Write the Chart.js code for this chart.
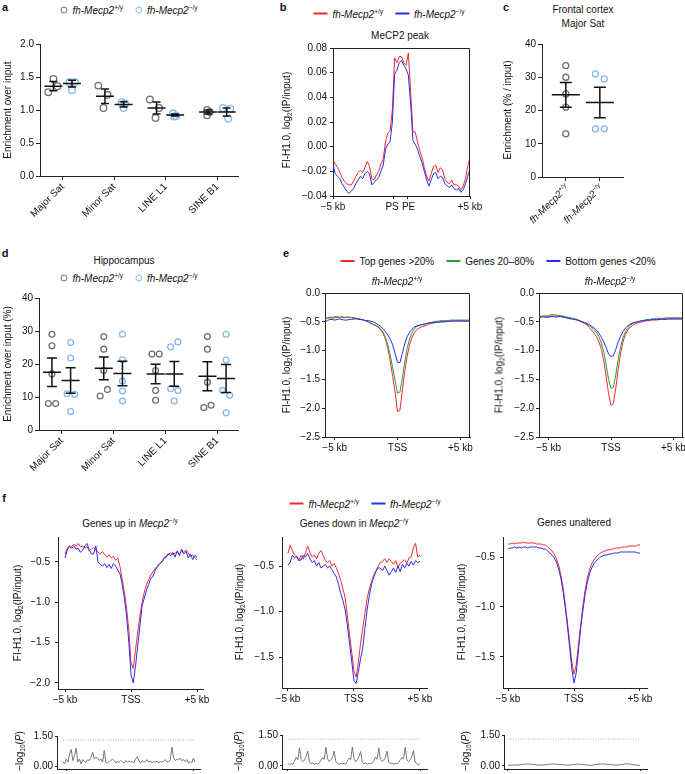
<!DOCTYPE html>
<html>
<head>
<meta charset="utf-8">
<script src="https://cdn.jsdelivr.net/npm/chart.js@4.4.1/dist/chart.umd.min.js"></script>
<style>
  body { margin: 0; background: #fff; }
  #fig { position: relative; width: 685px; height: 774px; overflow: hidden; background: #fff;
         font-family: 'Liberation Sans', Arial, Helvetica, sans-serif; font-size: 10px; color: #111; }
  .t { position: absolute; white-space: nowrap; transform: translate(-50%, -50%); line-height: 12px; }
  .r { transform: translate(-50%, -50%) rotate(-90deg); }
  .pl { font-weight: bold; font-size: 11px; }
  sup { font-size: 6.5px; vertical-align: 0; position: relative; top: -4px; }
  sub { font-size: 6.5px; vertical-align: 0; position: relative; top: 2px; }
  .oc { display: inline-block; width: 5px; height: 5px; border: 1.4px solid; border-radius: 50%; margin-right: 5px; vertical-align: 0; }
  .ln { display: inline-block; width: 14px; height: 2px; margin-right: 5px; vertical-align: 3px; }
  .gap { display: inline-block; width: 12px; }
  .rot45 { position: absolute; white-space: nowrap; transform-origin: 100% 50%; transform: rotate(-45deg); line-height: 12px; }
</style>
</head>
<body>
<div id="fig"></div>
<script>
  // ---------- data ----------
  // a: enrichment over input (3 mice per group)
  const repeatCats = ["Major Sat", "Minor Sat", "LINE L1", "SINE B1"];
  const aWT = [[1.47, 1.36, 1.27], [1.37, 1.23, 1.03], [1.16, 1.03, 0.88], [1.00, 0.97, 0.92]];
  const aKO = [[1.42, 1.42, 1.30], [1.12, 1.10, 1.03], [0.95, 0.91, 0.90], [1.03, 1.02, 0.87]];
  const aWTjit = [[0, 0.08, -0.1], [-0.13, 0.05, -0.03], [-0.13, 0.05, -0.02], [-0.02, 0.03, -0.02]];
  const aKOjit = [[-0.05, 0.06, 0], [-0.04, 0.03, 0], [-0.04, 0.02, -0.02], [-0.07, 0.07, 0.03]];
  const aWTmean = [1.36, 1.21, 1.03, 0.97];
  const aWTsem = [0.07, 0.11, 0.09, 0.03];
  const aKOmean = [1.40, 1.085, 0.925, 0.97];
  const aKOsem = [0.05, 0.04, 0.015, 0.06];

  // b: MeCP2 peak meta-profile
  const bRed = [-0.011, -0.014, -0.017, -0.021, -0.025, -0.028, -0.030, -0.031, -0.031, -0.028,
    -0.024, -0.021, -0.019, -0.021, -0.017, -0.012, -0.016, -0.026, -0.027, -0.023,
    -0.020, -0.014, -0.010, 0.004, 0.011, 0.013, 0.030, 0.072, 0.068, 0.073,
    0.073, 0.068, 0.066, 0.076, 0.045, 0.012, 0.012, 0.004, -0.003, -0.009,
    -0.017, -0.024, -0.028, -0.022, -0.016, -0.015, -0.021, -0.017, -0.019, -0.026,
    -0.029, -0.030, -0.027, -0.031, -0.031, -0.032, -0.035, -0.032, -0.026, -0.016,
    -0.009];
  const bBlue = [-0.015, -0.022, -0.024, -0.026, -0.030, -0.033, -0.036, -0.038, -0.036, -0.034,
    -0.030, -0.027, -0.024, -0.026, -0.022, -0.020, -0.022, -0.031, -0.029, -0.027,
    -0.025, -0.020, -0.015, -0.002, 0.002, 0.004, 0.020, 0.059, 0.062, 0.068,
    0.070, 0.066, 0.063, 0.058, 0.035, 0.005, 0.002, -0.002, -0.008, -0.013,
    -0.020, -0.027, -0.032, -0.027, -0.022, -0.021, -0.026, -0.024, -0.025, -0.030,
    -0.032, -0.033, -0.031, -0.034, -0.035, -0.034, -0.037, -0.035, -0.030, -0.024,
    -0.018];
  const bTickPos = [0, 26.5, 32.5, 60];
  const bTickLabels = ["\u22125 kb", "PS ", " PE", "+5 kb"];

  // c: frontal cortex, Major Sat
  const cCats = ["fh-Mecp2+/y", "fh-Mecp2-/y"];
  const cWT = [33.5, 30, 25, 21, 13];
  const cKO = [31, 29.5, 14.5, 14.5];
  const cWTjit = [0, 0, 0, 0, 0];
  const cKOjit = [-0.13, 0.13, -0.13, 0.13];
  const cMean = [24.7, 22.4];
  const cSem = [3.7, 4.6];

  // d: hippocampus (5 mice per group)
  const dWT = [[29, 25.5, 17, 8, 8], [28.3, 24.5, 18, 12.3, 10.3], [23, 23, 18, 12, 9], [28.3, 24.5, 14.5, 7.5, 6.8]];
  const dKO = [[26.5, 21.8, 11, 10.8, 5.6], [29, 21.3, 14.8, 11.8, 8.8], [26.7, 25.2, 12.5, 12, 8.8], [29, 21.2, 12, 10.5, 5.2]];
  const dWTjit = [[0, 0, 0, -0.07, 0.07], [0, 0, 0, 0.07, -0.07], [-0.07, 0.07, 0, 0, 0], [0, 0, 0, 0.07, -0.07]];
  const dKOjit = [[0, 0, -0.07, 0.08, 0], [0, 0, 0, 0, 0], [0.07, -0.07, -0.07, 0.07, 0], [0, 0, -0.07, 0.07, 0]];
  const dWTmean = [17.5, 18.7, 17.0, 16.3];
  const dWTsem = [4.3, 3.45, 2.95, 4.4];
  const dKOmean = [15.0, 17.1, 17.0, 15.6];
  const dKOsem = [3.9, 3.7, 3.75, 4.25];

  // e: TSS profiles by expression class
  const tssLabels = ["\u22125 kb", "TSS", "+5 kb"];
  const eWTtop = [-0.46, -0.44, -0.43, -0.44, -0.43, -0.42, -0.43, -0.42, -0.43, -0.42,
    -0.42, -0.43, -0.44, -0.44, -0.45, -0.46, -0.47, -0.49, -0.51, -0.53,
    -0.55, -0.57, -0.59, -0.64, -0.70, -0.80, -0.96, -1.18, -1.45, -1.72,
    -2.06, -2.04, -1.70, -1.36, -1.10, -0.90, -0.77, -0.69, -0.64, -0.61,
    -0.59, -0.57, -0.56, -0.54, -0.53, -0.52, -0.51, -0.51, -0.50, -0.50,
    -0.49, -0.49, -0.49, -0.48, -0.48, -0.48, -0.48, -0.48, -0.48, -0.48, -0.48];
  const eWTmid = [-0.44, -0.43, -0.42, -0.42, -0.41, -0.41, -0.42, -0.41, -0.42, -0.42,
    -0.42, -0.43, -0.43, -0.44, -0.45, -0.46, -0.47, -0.48, -0.50, -0.52,
    -0.54, -0.56, -0.58, -0.62, -0.68, -0.77, -0.90, -1.08, -1.30, -1.52,
    -1.74, -1.72, -1.48, -1.20, -0.96, -0.80, -0.69, -0.62, -0.58, -0.56,
    -0.55, -0.54, -0.53, -0.52, -0.51, -0.50, -0.49, -0.49, -0.48, -0.48,
    -0.48, -0.48, -0.47, -0.47, -0.47, -0.47, -0.47, -0.47, -0.47, -0.47, -0.47];
  const eWTbot = [-0.50, -0.48, -0.46, -0.46, -0.47, -0.46, -0.45, -0.46, -0.47, -0.47,
    -0.46, -0.46, -0.45, -0.45, -0.46, -0.46, -0.47, -0.48, -0.48, -0.49,
    -0.50, -0.52, -0.55, -0.58, -0.62, -0.67, -0.73, -0.80, -0.90, -1.05,
    -1.20, -1.21, -1.05, -0.88, -0.76, -0.68, -0.63, -0.59, -0.57, -0.56,
    -0.55, -0.54, -0.53, -0.52, -0.52, -0.51, -0.51, -0.50, -0.50, -0.50,
    -0.50, -0.49, -0.49, -0.49, -0.49, -0.49, -0.49, -0.49, -0.49, -0.49, -0.49];
  const eKOtop = [-0.42, -0.41, -0.41, -0.42, -0.41, -0.40, -0.40, -0.40, -0.40, -0.41,
    -0.41, -0.42, -0.43, -0.44, -0.45, -0.46, -0.47, -0.49, -0.51, -0.53,
    -0.56, -0.60, -0.65, -0.70, -0.76, -0.85, -0.98, -1.18, -1.45, -1.75,
    -1.95, -1.92, -1.65, -1.32, -1.05, -0.85, -0.72, -0.64, -0.59, -0.56,
    -0.54, -0.52, -0.51, -0.50, -0.49, -0.48, -0.48, -0.47, -0.47, -0.47,
    -0.46, -0.46, -0.46, -0.46, -0.45, -0.45, -0.45, -0.45, -0.45, -0.45, -0.45];
  const eKOmid = [-0.41, -0.40, -0.40, -0.40, -0.39, -0.38, -0.38, -0.38, -0.39, -0.39,
    -0.40, -0.41, -0.42, -0.43, -0.44, -0.45, -0.46, -0.48, -0.50, -0.52,
    -0.54, -0.57, -0.60, -0.64, -0.69, -0.76, -0.87, -1.03, -1.25, -1.50,
    -1.66, -1.64, -1.42, -1.15, -0.93, -0.78, -0.67, -0.60, -0.56, -0.53,
    -0.51, -0.50, -0.49, -0.48, -0.47, -0.46, -0.46, -0.45, -0.45, -0.44,
    -0.44, -0.44, -0.44, -0.43, -0.43, -0.43, -0.43, -0.43, -0.43, -0.43, -0.43];
  const eKObot = [-0.42, -0.42, -0.41, -0.42, -0.42, -0.41, -0.41, -0.42, -0.41, -0.41,
    -0.42, -0.43, -0.44, -0.45, -0.45, -0.46, -0.47, -0.48, -0.50, -0.51,
    -0.53, -0.55, -0.58, -0.61, -0.65, -0.70, -0.77, -0.85, -0.95, -1.06,
    -1.10, -1.09, -0.98, -0.85, -0.75, -0.67, -0.61, -0.57, -0.54, -0.52,
    -0.51, -0.50, -0.49, -0.48, -0.48, -0.47, -0.47, -0.46, -0.46, -0.46,
    -0.46, -0.45, -0.45, -0.45, -0.45, -0.45, -0.45, -0.45, -0.45, -0.45, -0.45];

  // f: TSS profiles for misregulated genes
  const fUpWT = [-0.40, -0.33, -0.30, -0.31, -0.28, -0.30, -0.27, -0.31, -0.30, -0.33,
    -0.31, -0.36, -0.34, -0.32, -0.35, -0.38, -0.40, -0.37, -0.41, -0.44,
    -0.41, -0.45, -0.43, -0.48, -0.45, -0.56, -0.72, -0.88, -1.08, -1.35,
    -1.75, -1.82, -1.60, -1.38, -1.18, -1.00, -0.88, -0.78, -0.72, -0.66,
    -0.62, -0.58, -0.55, -0.52, -0.50, -0.46, -0.42, -0.40, -0.39, -0.41,
    -0.39, -0.38, -0.40, -0.37, -0.38, -0.35, -0.39, -0.43, -0.41, -0.45, -0.47];
  const fUpKO = [-0.45, -0.35, -0.31, -0.33, -0.30, -0.34, -0.33, -0.38, -0.35, -0.30,
    -0.27, -0.35, -0.40, -0.40, -0.30, -0.50, -0.53, -0.55, -0.52, -0.57,
    -0.53, -0.58, -0.52, -0.55, -0.60, -0.65, -0.78, -0.95, -1.18, -1.50,
    -1.90, -2.00, -1.80, -1.55, -1.30, -1.05, -0.95, -0.85, -0.78, -0.70,
    -0.68, -0.60, -0.56, -0.52, -0.50, -0.45, -0.44, -0.40, -0.42, -0.38,
    -0.44, -0.36, -0.42, -0.34, -0.40, -0.37, -0.45, -0.40, -0.47, -0.42, -0.44];
  const fDownWT = [-0.36, -0.27, -0.33, -0.38, -0.40, -0.44, -0.38, -0.42, -0.35, -0.28,
    -0.35, -0.40, -0.38, -0.42, -0.36, -0.33, -0.38, -0.44, -0.46, -0.44,
    -0.50, -0.47, -0.52, -0.58, -0.66, -0.75, -0.85, -1.05, -1.25, -1.45,
    -1.65, -1.72, -1.56, -1.35, -1.18, -1.02, -0.85, -0.75, -0.67, -0.60,
    -0.55, -0.50, -0.46, -0.45, -0.42, -0.46, -0.42, -0.45, -0.48, -0.44,
    -0.51, -0.47, -0.45, -0.43, -0.47, -0.41, -0.40, -0.30, -0.25, -0.40, -0.38];
  const fDownKO = [-0.49, -0.46, -0.38, -0.41, -0.39, -0.44, -0.43, -0.38, -0.40, -0.36,
    -0.42, -0.46, -0.44, -0.50, -0.46, -0.52, -0.50, -0.48, -0.52, -0.50,
    -0.54, -0.58, -0.62, -0.70, -0.80, -0.88, -0.98, -1.15, -1.35, -1.55,
    -1.76, -1.79, -1.66, -1.52, -1.40, -1.18, -0.98, -0.82, -0.70, -0.62,
    -0.56, -0.52, -0.52, -0.55, -0.50, -0.55, -0.60, -0.56, -0.52, -0.57,
    -0.50, -0.56, -0.48, -0.52, -0.47, -0.50, -0.45, -0.49, -0.44, -0.46, -0.45];
  const fSameWT = [-0.37, -0.37, -0.36, -0.37, -0.36, -0.36, -0.36, -0.35, -0.36, -0.36,
    -0.36, -0.36, -0.36, -0.37, -0.37, -0.37, -0.38, -0.38, -0.40, -0.42,
    -0.44, -0.47, -0.52, -0.58, -0.68, -0.80, -0.97, -1.15, -1.35, -1.55,
    -1.67, -1.58, -1.38, -1.18, -1.00, -0.84, -0.72, -0.63, -0.57, -0.53,
    -0.50, -0.48, -0.46, -0.45, -0.44, -0.43, -0.43, -0.42, -0.42, -0.41,
    -0.41, -0.41, -0.40, -0.40, -0.40, -0.39, -0.39, -0.39, -0.39, -0.38, -0.38];
  const fSameKO = [-0.42, -0.41, -0.41, -0.40, -0.41, -0.40, -0.41, -0.40, -0.40, -0.41,
    -0.40, -0.40, -0.40, -0.40, -0.41, -0.41, -0.42, -0.42, -0.44, -0.46,
    -0.48, -0.51, -0.55, -0.62, -0.71, -0.84, -1.00, -1.19, -1.40, -1.62,
    -1.76, -1.66, -1.44, -1.22, -1.04, -0.88, -0.76, -0.67, -0.61, -0.57,
    -0.54, -0.52, -0.50, -0.49, -0.48, -0.48, -0.47, -0.47, -0.46, -0.46,
    -0.46, -0.45, -0.45, -0.45, -0.45, -0.45, -0.45, -0.45, -0.45, -0.46, -0.46];

  // f bottom: -log10(P) along the profile
  const pUp = [0.22, 0.10, 0.35, 0.19, 0.60, 0.83, 0.27, 0.52, 0.90, 0.19,
    0.35, 0.10, 0.32, 0.22, 0.19, 0.32, 0.27, 0.44, 0.69, 0.35,
    0.44, 0.39, 0.27, 0.35, 0.19, 0.78, 0.19, 0.15, 0.22, 0.27,
    0.35, 0.27, 0.15, 0.22, 0.19, 0.27, 0.19, 0.15, 0.27, 0.19,
    0.25, 0.19, 0.22, 0.15, 0.35, 0.46, 0.27, 0.15, 0.27, 0.19,
    0.22, 0.32, 0.19, 0.25, 0.15, 0.22, 0.19, 0.25, 0.15, 0.22,
    0.19, 0.25, 0.32, 0.19, 0.22, 0.32, 0.94, 0.39, 0.27, 0.35,
    0.32, 0.39, 0.27, 0.32, 0.22, 0.32, 0.15, 0.22, 0.15, 0.39, 0.19];
  const pDown = [0.12, 0.05, 0.12, 0.08, 0.22, 0.42, 0.30, 0.88, 0.32, 0.20,
    0.28, 0.45, 0.72, 0.20, 0.10, 0.14, 0.08, 0.12, 0.10, 0.15,
    0.28, 0.40, 0.32, 0.90, 0.35, 0.22, 0.30, 0.42, 0.72, 0.22,
    0.12, 0.08, 0.14, 0.10, 0.12, 0.08, 0.22, 0.38, 0.30, 0.92,
    0.35, 0.20, 0.30, 0.45, 0.70, 0.18, 0.10, 0.15, 0.08, 0.12,
    0.10, 0.15, 0.25, 0.42, 0.32, 0.88, 0.30, 0.22, 0.28, 0.40,
    0.72, 0.20, 0.10, 0.14, 0.08, 0.12, 0.10, 0.18, 0.30, 0.40,
    0.35, 0.90, 0.30, 0.20, 0.30, 0.45, 0.75, 0.18, 0.12, 0.05, 0.12];
  const pSame = [0.03, 0.04, 0.04, 0.05, 0.06, 0.08, 0.10, 0.08, 0.06, 0.05,
    0.04, 0.05, 0.07, 0.09, 0.10, 0.08, 0.06, 0.05, 0.04, 0.05,
    0.07, 0.09, 0.08, 0.06, 0.04, 0.03, 0.05, 0.07, 0.09, 0.10,
    0.08, 0.06, 0.05, 0.04, 0.06, 0.08, 0.10, 0.09, 0.06, 0.04, 0.03];
  const pThreshold = 1.3;
  const pTicks = [0, 0.75, 1.5];

  // ---------- helpers ----------
  const fig = document.getElementById("fig");
  const AX = "#222", TXT = "#111";
  const RED = "#ee2b2b", BLUE = "#2b2bef", GREEN = "#2f9a37", PGRAY = "#777";
  const GRAYC = "#6f6f6f", BLUEC = "#87b6ee";

  Chart.defaults.font.family = "'Liberation Sans', Arial, Helvetica, sans-serif";
  Chart.defaults.font.size = 10;
  Chart.defaults.color = TXT;

  const fmt = (v, d) => (v < 0 ? "\u2212" : "") + Math.abs(v).toFixed(d);

  function T(html, x, y, cls, extra) {
    const d = document.createElement("div");
    d.className = "t" + (cls ? " " + cls : "");
    d.style.left = x + "px";
    d.style.top = y + "px";
    if (extra) d.style.cssText += extra;
    d.innerHTML = html;
    fig.appendChild(d);
  }

  function axisY(o) {
    return {
      type: "linear", position: "left", min: o.min, max: o.max,
      afterBuildTicks: s => { s.ticks = o.ticks.map(v => ({ value: v })); },
      afterFit: s => { s.width = o.w; s.paddingTop = 0; s.paddingBottom = 0; },
      grid: { drawOnChartArea: false, tickLength: o.tl || 3, color: AX, tickColor: AX },
      border: { color: AX, width: 1 },
      ticks: { padding: o.pad || 2, color: TXT, font: { size: 10 }, callback: v => fmt(v, o.dec) }
    };
  }

  function axisX(o) {
    return {
      type: "linear", position: "bottom", min: o.min, max: o.max,
      afterBuildTicks: s => { s.ticks = o.ticks.map(v => ({ value: v })); },
      afterFit: s => { s.height = o.h; s.paddingLeft = 0; s.paddingRight = 0; },
      grid: { drawOnChartArea: false, tickLength: o.tl || 3, color: AX, tickColor: AX },
      border: { color: AX, width: 1 },
      ticks: {
        padding: o.pad || 2, color: TXT, font: { size: 10 }, autoSkip: false,
        minRotation: o.rot || 0, maxRotation: o.rot || 0,
        callback: (v, i) => (o.labels ? o.labels[i] : "")
      }
    };
  }

  // area = [left, top, right, bottom] of the plot box on the page
  function mk(area, yw, xh, pt, pr, cfg) {
    const w = area[2] - area[0] + yw + pr, h = area[3] - area[1] + pt + xh;
    const c = document.createElement("canvas");
    c.width = w; c.height = h;
    c.style.cssText = `position:absolute;left:${area[0] - yw}px;top:${area[1] - pt}px;width:${w}px;height:${h}px`;
    fig.appendChild(c);
    cfg.options.responsive = false;
    cfg.options.animation = false;
    cfg.options.layout = { padding: { top: pt, right: pr, left: 0, bottom: 0 }, autoPadding: false };
    cfg.options.plugins = Object.assign({ legend: { display: false }, tooltip: { enabled: false } }, cfg.options.plugins || {});
    return new Chart(c, cfg);
  }

  const meanBars = {
    id: "meanBars",
    afterDatasetsDraw(chart, args, o) {
      const { ctx, scales: { x, y } } = chart;
      ctx.save();
      ctx.strokeStyle = "#111";
      ctx.lineWidth = 1.5;
      o.groups.forEach(g => g.mean.forEach((m, i) => {
        const cx = x.getPixelForValue(i + g.off);
        const ym = y.getPixelForValue(m);
        const lo = y.getPixelForValue(m - g.sem[i]), hi = y.getPixelForValue(m + g.sem[i]);
        ctx.beginPath();
        ctx.moveTo(cx - o.hw, ym); ctx.lineTo(cx + o.hw, ym);
        ctx.moveTo(cx, lo); ctx.lineTo(cx, hi);
        ctx.moveTo(cx - o.cap, lo); ctx.lineTo(cx + o.cap, lo);
        ctx.moveTo(cx - o.cap, hi); ctx.lineTo(cx + o.cap, hi);
        ctx.stroke();
      }));
      ctx.restore();
    }
  };

  const frame = {
    id: "frame",
    afterDraw(chart) {
      const { ctx, chartArea: a } = chart;
      ctx.save();
      ctx.strokeStyle = AX;
      ctx.lineWidth = 1;
      ctx.beginPath();
      ctx.moveTo(Math.round(a.left) + 0.5, Math.round(a.top) + 0.5);
      ctx.lineTo(Math.round(a.right) - 0.5, Math.round(a.top) + 0.5);
      ctx.lineTo(Math.round(a.right) - 0.5, Math.round(a.bottom));
      ctx.stroke();
      ctx.restore();
    }
  };

  function groupPoints(vals, jit, off, start) {
    const out = [];
    vals.forEach((g, i) => g.forEach((v, k) => out.push({ x: (start || 0) + i + off + jit[i][k], y: v })));
    return out;
  }
  const circ = (data, color, r) => ({
    data, pointRadius: r, pointBorderWidth: 1.3, pointBorderColor: color,
    pointBackgroundColor: "rgba(0,0,0,0)", showLine: false
  });
  const xy = arr => arr.map((v, i) => ({ x: i, y: v }));
  const line = (arr, color) => ({ data: xy(arr), borderColor: color, borderWidth: 1, pointRadius: 0, tension: 0, fill: false });

  // ---------- a ----------
  mk([40, 44, 238, 176], 40, 56, 8, 4, {
    type: "scatter",
    data: { datasets: [circ(groupPoints(aWT, aWTjit, -0.18), GRAYC, 3.3), circ(groupPoints(aKO, aKOjit, 0.18), BLUEC, 3.3)] },
    options: {
      scales: {
        x: axisX({ min: -0.44, max: 3.4, ticks: [0, 1, 2, 3], labels: repeatCats, h: 56, rot: 45, tl: 4, pad: 1 }),
        y: axisY({ min: 0, max: 2, ticks: [0, 0.5, 1, 1.5, 2], dec: 1, w: 40, tl: 4, pad: 2 })
      },
      plugins: { meanBars: { hw: 9, cap: 4, groups: [{ mean: aWTmean, sem: aWTsem, off: -0.18 }, { mean: aKOmean, sem: aKOsem, off: 0.18 }] } }
    },
    plugins: [meanBars]
  });

  // ---------- b ----------
  mk([333, 48, 470, 196], 48, 24, 6, 16, {
    type: "line",
    data: { datasets: [line(bBlue, BLUE), line(bRed, RED)] },
    options: {
      scales: {
        x: axisX({ min: 0, max: 60, ticks: bTickPos, labels: bTickLabels, h: 24, tl: 3, pad: 2 }),
        y: axisY({ min: -0.04, max: 0.08, ticks: [-0.04, -0.02, 0, 0.02, 0.04, 0.06, 0.08], dec: 2, w: 48, tl: 3, pad: 3 })
      }
    },
    plugins: [frame]
  });

  // ---------- c ----------
  mk([542, 44, 623, 177], 30, 10, 6, 4, {
    type: "scatter",
    data: { datasets: [circ(groupPoints([cWT], [cWTjit], 0, 0), GRAYC, 3), circ(groupPoints([cKO], [cKOjit], 0, 1), BLUEC, 3)] },
    options: {
      scales: {
        x: axisX({ min: -0.7, max: 1.68, ticks: [0, 1], h: 10, tl: 4 }),
        y: axisY({ min: 0, max: 40, ticks: [0, 10, 20, 30, 40], dec: 0, w: 30, tl: 4, pad: 2 })
      },
      plugins: { meanBars: { hw: 14, cap: 6, groups: [{ mean: cMean, sem: cSem, off: 0 }] } }
    },
    plugins: [meanBars]
  });

  // ---------- d ----------
  mk([39, 298, 238, 430], 39, 56, 8, 4, {
    type: "scatter",
    data: { datasets: [circ(groupPoints(dWT, dWTjit, -0.19), GRAYC, 2.9), circ(groupPoints(dKO, dKOjit, 0.17), BLUEC, 2.9)] },
    options: {
      scales: {
        x: axisX({ min: -0.44, max: 3.4, ticks: [0, 1, 2, 3], labels: repeatCats, h: 56, rot: 45, tl: 4, pad: 1 }),
        y: axisY({ min: 0, max: 40, ticks: [0, 10, 20, 30, 40], dec: 0, w: 39, tl: 4, pad: 2 })
      },
      plugins: { meanBars: { hw: 9, cap: 5, groups: [{ mean: dWTmean, sem: dWTsem, off: -0.19 }, { mean: dKOmean, sem: dKOsem, off: 0.17 }] } }
    },
    plugins: [meanBars]
  });

  // ---------- e ----------
  const eY = { min: -2.5, max: 0, ticks: [-2.5, -2, -1.5, -1, -0.5, 0], dec: 1, w: 36, tl: 3, pad: 2 };
  [[325, eWTtop, eWTmid, eWTbot, 470], [539, eKOtop, eKOmid, eKObot, 683]].forEach(([l, top, mid, bot, r]) => {
    mk([l, 293, r, 437], 36, 22, 6, 14, {
      type: "line",
      data: { datasets: [line(bot, BLUE), line(mid, GREEN), line(top, RED)] },
      options: {
        scales: {
          x: axisX({ min: 0, max: 60, ticks: [4, 30, 56], labels: tssLabels, h: 22, tl: 3, pad: 2 }),
          y: axisY(eY)
        }
      },
      plugins: [frame]
    });
  });

  // ---------- f ----------
  const fPanels = [
    { area: [58, 537, 203, 689], wt: fUpWT, ko: fUpKO, ymin: -2.075, ymax: -0.19, yt: [-2, -1.5, -1, -0.5], xmin: -3.2, xmax: 62.7 },
    { area: [282, 537, 427, 688], wt: fDownWT, ko: fDownKO, ymin: -1.84, ymax: -0.18, yt: [-1.5, -1, -0.5], xmin: -2.7, xmax: 63.2 },
    { area: [503, 537, 647, 688], wt: fSameWT, ko: fSameKO, ymin: -1.81, ymax: -0.3, yt: [-1.5, -1, -0.5], xmin: -2.3, xmax: 63.2 }
  ];
  fPanels.forEach(p => {
    mk(p.area, 40, 22, 4, 16, {
      type: "line",
      data: { datasets: [line(p.ko, BLUE), line(p.wt, RED)] },
      options: {
        scales: {
          x: axisX({ min: p.xmin, max: p.xmax, ticks: [0, 30, 60], labels: tssLabels, h: 22, tl: 3, pad: 2 }),
          y: axisY({ min: p.ymin, max: p.ymax, ticks: p.yt, dec: 1, w: 40, tl: 3, pad: 5 })
        }
      }
    });
  });

  const pPanels = [
    { area: [57, 736, 200, 769], vals: pUp, xmin: -3.6, xmax: 83, xt: [2.4, 78.8] },
    { area: [282, 735, 427, 769], vals: pDown, xmin: -3.6, xmax: 84.2, xt: [0, 80] },
    { area: [504, 735, 647, 769], vals: pSame, xmin: -1.2, xmax: 42.1, xt: [0, 40] }
  ];
  pPanels.forEach(p => {
    const n = p.vals.length - 1;
    mk(p.area, 32, 4, 6, 4, {
      type: "line",
      data: {
        datasets: [
          { data: [{ x: 0, y: pThreshold }, { x: n, y: pThreshold }], borderColor: "#aaa", borderWidth: 1, borderDash: [1, 1.5], pointRadius: 0 },
          line(p.vals, PGRAY)
        ]
      },
      options: {
        scales: {
          x: axisX({ min: p.xmin, max: p.xmax, ticks: p.xt, h: 4, tl: 2 }),
          y: axisY({ min: -0.15, max: 1.5, ticks: pTicks, dec: 2, w: 32, tl: 2, pad: 2 })
        }
      }
    });
  });

  // ---------- text ----------
  const wt = "<i>fh-Mecp2</i><sup>+/y</sup>";
  const ko = "<i>fh-Mecp2</i><sup>\u2212/y</sup>";
  const h1 = "FI-H1.0, log<sub>2</sub>(IP/input)";
  const circLegend = `<span class="oc" style="border-color:${GRAYC}"></span>${wt}<span class="gap"></span><span class="oc" style="border-color:${BLUEC}"></span>${ko}`;
  const lineLegend = `<span class="ln" style="background:${RED}"></span>${wt}<span class="gap"></span><span class="ln" style="background:${BLUE}"></span>${ko}`;

  T("a", 5, 7, "pl");
  T("b", 283, 7, "pl");
  T("c", 506, 7, "pl");
  T("d", 5, 253, "pl");
  T("e", 286, 253, "pl");
  T("f", 4, 498, "pl");

  T(circLegend, 129, 11);
  T("Enrichment over input", 8, 110, "r");

  T(lineLegend, 389, 15);
  T("MeCP2 peak", 400, 36);
  T(h1, 287, 120, "r");

  T("Frontal cortex", 583, 10);
  T("Major Sat", 583, 24);
  T("Enrichment (% / input)", 508, 110, "r");
  cCats.forEach((c, i) => {
    const d = document.createElement("div");
    d.className = "rot45";
    d.style.right = (685 - [568, 602][i]) + "px";
    d.style.top = (186 - 6) + "px";
    d.innerHTML = i === 0 ? wt : ko;
    fig.appendChild(d);
  });

  T("Hippocampus", 124, 261);
  T(circLegend, 129, 279);
  T("Enrichment over input (%)", 8, 364, "r");

  T(`<span class="ln" style="background:${RED}"></span>Top genes &gt;20%<span class="gap"></span><span class="ln" style="background:${GREEN}"></span>Genes 20\u201380%<span class="gap"></span><span class="ln" style="background:${BLUE}"></span>Bottom genes &lt;20%`, 498, 262);
  T(wt, 397, 282);
  T(ko, 610, 282);
  T(h1, 287, 365, "r");
  T(h1, 500, 365, "r");

  T(lineLegend, 365, 505);
  T("Genes up in <i>Mecp2</i><sup>\u2212/y</sup>", 130, 524);
  T("Genes down in <i>Mecp2</i><sup>\u2212/y</sup>", 354, 524);
  T("Genes unaltered", 574, 523);
  T(h1, 18, 613, "r");
  T(h1, 240, 612, "r");
  T(h1, 462, 612, "r");
  const pl = "\u2212log<sub>10</sub>(<i>P</i>)";
  T(pl, 20, 751, "r");
  T(pl, 239, 751, "r");
  T(pl, 466, 751, "r");
</script>
</body>
</html>
